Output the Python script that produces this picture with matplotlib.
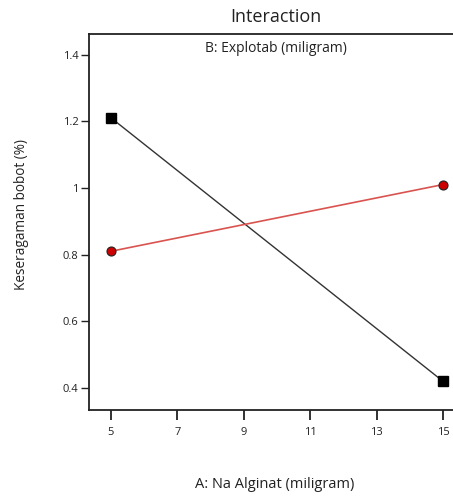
import matplotlib
matplotlib.use("Agg")
import matplotlib.pyplot as plt

plt.rcParams['font.family'] = ['Open Sans', 'DejaVu Sans']

a_levels = [5, 15]
b_low = [1.21, 0.42]
b_high = [0.81, 1.01]
xticks = [5, 7, 9, 11, 13, 15]
yticks = [0.4, 0.6, 0.8, 1.0, 1.2, 1.4]
ytick_labels = ["0.4", "0.6", "0.8", "1", "1.2", "1.4"]

W, H = 453, 496
fig = plt.figure(figsize=(W / 100, H / 100), dpi=100)
left, right, top, bottom = 89, 453, 33.5, 410
ax = fig.add_axes([left / W, 1 - bottom / H, (right - left) / W, (bottom - top) / H])

ax.plot(a_levels, b_low, color='#333333', lw=1.0, marker='s', ms=6.5,
        mfc='black', mec='black', zorder=3)
ax.plot(a_levels, b_high, color='#d9534f', lw=1.2, marker='o', ms=6.5,
        mfc='#cc0000', mec='#222222', mew=0.8, zorder=3)

ax.set_xlim(4.337, 15.3)
ax.set_ylim(0.334, 1.463)
ax.set_xticks(xticks)
ax.set_xticklabels([str(t) for t in xticks])
ax.set_yticks(yticks)
ax.set_yticklabels(ytick_labels)

ax.spines['right'].set_visible(False)
for s in ['left', 'top', 'bottom']:
    ax.spines[s].set_linewidth(1.3)
    ax.spines[s].set_color('#222222')

ax.tick_params(axis='x', direction='out', length=7, width=1.3, labelsize=8,
               pad=5, colors='#222222')
ax.tick_params(axis='y', direction='out', length=5.5, width=1.0, labelsize=8,
               pad=2, colors='#222222')

fig.text(276 / W, 1 - 17 / H, "Interaction",
         ha='center', va='center', fontsize=13, color='#222222')
ax.text((276 - left) / (right - left), 1 - (49 - top) / (bottom - top),
        "B: Explotab (miligram)", transform=ax.transAxes, ha='center',
        va='center', fontsize=10, color='#222222')
fig.text(275 / W, 1 - 485 / H, "A: Na Alginat (miligram)", ha='center',
         va='center', fontsize=10.5, color='#222222')
fig.text(22 / W, 1 - 214 / H, "Keseragaman bobot (%)", ha='center',
         va='center', rotation=90, fontsize=9.8, color='#222222')

fig.savefig("out.png", dpi=100)
